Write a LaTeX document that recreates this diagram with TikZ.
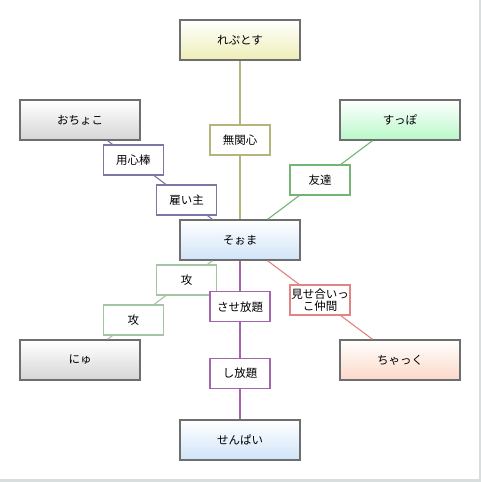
\documentclass[tikz,border=0pt]{standalone}
\usepackage{fontspec}
\setmainfont{Noto Sans CJK JP}
\usetikzlibrary{calc}
\definecolor{nodeborder}{HTML}{6E6E6E}
\definecolor{cyellow}{HTML}{EEEEB8}
\definecolor{cgreen}{HTML}{B8F8C8}
\definecolor{cgray}{HTML}{D6D6D6}
\definecolor{cblue}{HTML}{D0E4F8}
\definecolor{cpeach}{HTML}{FCD8C8}
\definecolor{eolive}{HTML}{B4B47C}
\definecolor{epurple}{HTML}{7A78A4}
\definecolor{egreen}{HTML}{74B474}
\definecolor{elgreen}{HTML}{A4C4A4}
\definecolor{emagenta}{HTML}{A464AC}
\definecolor{ered}{HTML}{E08484}
\definecolor{frame}{HTML}{D8DEDE}
\tikzset{
  ent/.style={draw=nodeborder, line width=1.6pt, rectangle, minimum width=120pt, minimum height=40pt, inner sep=0pt, top color=white, font=\fontsize{11.5}{12}\selectfont},
  lab/.style={draw=#1, fill=white, line width=1.3pt, rectangle, minimum width=60pt, minimum height=30pt, inner sep=0pt, align=center, font=\fontsize{11.5}{12}\selectfont},
  conn/.style={draw=#1, line width=1.1pt}
}
\begin{document}
\begin{tikzpicture}[x=1pt,y=-1pt]
\useasboundingbox (0,0) rectangle (481,482);
\fill[white] (0,0) rectangle (481,482);
\fill[frame] (479,0) rectangle (481,482);
\fill[frame] (0,478.5) rectangle (481,482);
% entities
\node[ent, bottom color=cyellow] (reputosu) at (240,40) {れぷとす};
\node[ent, bottom color=cgray] (ochoko) at (80,120) {おちょこ};
\node[ent, bottom color=cgreen] (suppo) at (400,120) {すっぽ};
\node[ent, bottom color=cblue] (soma) at (240,240) {そぉま};
\node[ent, bottom color=cgray] (nyu) at (80,360) {にゅ};
\node[ent, bottom color=cpeach] (chakku) at (400,360) {ちゃっく};
\node[ent, bottom color=cblue] (senpai) at (240,440) {せんぱい};
% connectors
\draw[conn=eolive, line width=1.6pt] (reputosu) -- (soma);
\draw[conn=epurple] (ochoko) -- (soma);
\draw[conn=egreen] (suppo) -- (soma);
\draw[conn=elgreen] (nyu) -- (soma);
\draw[conn=emagenta, line width=1.6pt] (soma) -- (senpai);
\draw[conn=ered] (soma) -- (chakku);
% labels
\node[lab=eolive] (l1) at ($(reputosu)!0.5!(soma)$) {無関心};
\node[lab=epurple] (l2) at ($(ochoko)!1/3!(soma)$) {用心棒};
\node[lab=epurple] (l3) at ($(ochoko)!2/3!(soma)$) {雇い主};
\node[lab=egreen] (l4) at ($(suppo)!0.5!(soma)$) {友達};
\node[lab=elgreen] (l5) at ($(nyu)!2/3!(soma)$) {攻};
\node[lab=elgreen] (l6) at ($(nyu)!1/3!(soma)$) {攻};
\node[lab=emagenta] (l7) at ($(soma)!1/3!(senpai)$) {させ放題};
\node[lab=emagenta] (l8) at ($(soma)!2/3!(senpai)$) {し放題};
\node[lab=ered] (l9) at ($(soma)!0.5!(chakku)$) {見せ合いっ\\こ仲間};
\end{tikzpicture}
\end{document}
